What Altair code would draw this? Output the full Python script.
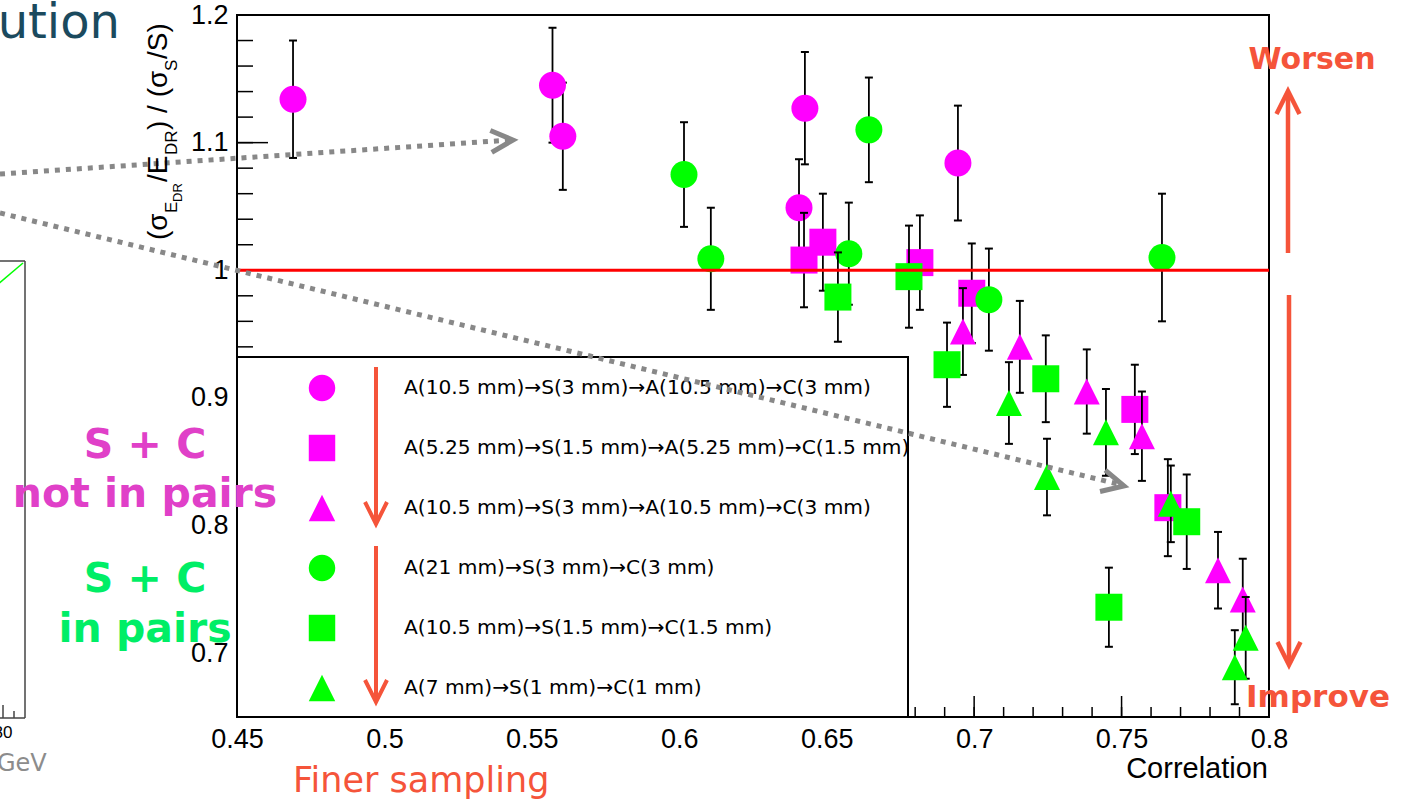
import altair as alt
import pandas as pd

# ------------------------------------------------------------------ data
X_DOMAIN = [0.45, 0.80]
Y_DOMAIN = [0.65, 1.20]

x_tick_labels = [0.45, 0.5, 0.55, 0.6, 0.65, 0.7, 0.75, 0.8]
y_tick_labels = [0.7, 0.8, 0.9, 1.0, 1.1, 1.2]
x_minor_ticks = [round(0.45 + 0.01 * i, 2) for i in range(36)]
y_minor_ticks = [round(0.66 + 0.02 * i, 2) for i in range(28)]

legend_labels = [
    "A(10.5 mm)→S(3 mm)→A(10.5 mm)→C(3 mm)",
    "A(5.25 mm)→S(1.5 mm)→A(5.25 mm)→C(1.5 mm)",
    "A(10.5 mm)→S(3 mm)→A(10.5 mm)→C(3 mm)",
    "A(21 mm)→S(3 mm)→C(3 mm)",
    "A(10.5 mm)→S(1.5 mm)→C(1.5 mm)",
    "A(7 mm)→S(1 mm)→C(1 mm)",
]

TRI = "M-1,1L1,1L0,-1Z"
series_colors = ["#ff00ff", "#ff00ff", "#ff00ff", "#00ff00", "#00ff00", "#00ff00"]
series_shapes = ["circle", "square", TRI, "circle", "square", TRI]

# magenta (not in pairs)
mag_circle_x = [0.469, 0.557, 0.5605, 0.6426, 0.6406, 0.6945]
mag_circle_y = [1.134, 1.145, 1.105, 1.127, 1.049, 1.084]
mag_circle_e = [0.046, 0.045, 0.042, 0.044, 0.038, 0.045]

mag_square_x = [0.6423, 0.6487, 0.6816, 0.6992, 0.7545, 0.7657]
mag_square_y = [1.008, 1.022, 1.006, 0.982, 0.891, 0.814]
mag_square_e = [0.037, 0.038, 0.037, 0.039, 0.035, 0.038]

mag_tri_x = [0.6962, 0.7155, 0.7382, 0.7569, 0.7827, 0.7911]
mag_tri_y = [0.952, 0.940, 0.905, 0.870, 0.765, 0.742]
mag_tri_e = [0.034, 0.036, 0.033, 0.035, 0.030, 0.032]

# green (in pairs)
grn_circle_x = [0.6016, 0.6107, 0.6575, 0.6643, 0.7050, 0.7637]
grn_circle_y = [1.075, 1.009, 1.013, 1.110, 0.977, 1.010]
grn_circle_e = [0.041, 0.040, 0.040, 0.041, 0.040, 0.050]

grn_square_x = [0.6538, 0.6779, 0.6908, 0.7243, 0.7457, 0.7721]
grn_square_y = [0.979, 0.995, 0.926, 0.915, 0.736, 0.803]
grn_square_e = [0.035, 0.040, 0.033, 0.034, 0.031, 0.037]

grn_tri_x = [0.7118, 0.7247, 0.7447, 0.7667, 0.7921, 0.7884]
grn_tri_y = [0.896, 0.838, 0.873, 0.817, 0.712, 0.689]
grn_tri_e = [0.032, 0.030, 0.034, 0.030, 0.032, 0.029]

series = [
    (mag_circle_x, mag_circle_y, mag_circle_e),
    (mag_square_x, mag_square_y, mag_square_e),
    (mag_tri_x, mag_tri_y, mag_tri_e),
    (grn_circle_x, grn_circle_y, grn_circle_e),
    (grn_square_x, grn_square_y, grn_square_e),
    (grn_tri_x, grn_tri_y, grn_tri_e),
]
series_sizes = [729, 729, 676, 729, 729, 676]

# ------------------------------------------------------------------ setup
W, H = 1032, 702
one = alt.Data(values=[{"k": 0}])
ORANGE = "#f5543a"
SANS = "Liberation Sans"
SLIDE = "DejaVu Sans"

xs = alt.Scale(domain=X_DOMAIN, nice=False, zero=False)
ys = alt.Scale(domain=Y_DOMAIN, nice=False, zero=False)
x_axis = alt.Axis(values=x_tick_labels, format="~g", ticks=False, domain=False, grid=False,
                  labelFont=SANS, labelFontSize=27, labelColor="black", labelPadding=9,
                  labelFlush=False, labelOverlap=False, title=None)
y_axis = alt.Axis(values=y_tick_labels, format="~g", ticks=False, domain=False, grid=False,
                  labelFont=SANS, labelFontSize=27, labelColor="black", labelPadding=9,
                  labelFlush=False, labelOverlap=False, title=None)


def txt(text, x, y, size, color="black", font=SLIDE, bold=False, align="left",
        angle=None, baseline="alphabetic"):
    kw = dict(text=text, fontSize=size, color=color, font=font, align=align,
              baseline=baseline, fontWeight="bold" if bold else "normal")
    if angle is not None:
        kw["angle"] = angle
    return alt.Chart(one).mark_text(**kw).encode(x=alt.value(x), y=alt.value(y))


def seg(x1, y1, x2, y2, color, width, dash=None):
    kw = dict(color=color, strokeWidth=width, strokeCap="butt")
    if dash:
        kw["strokeDash"] = dash
    return alt.Chart(one).mark_rule(**kw).encode(
        x=alt.value(x1), y=alt.value(y1), x2=alt.value(x2), y2=alt.value(y2))


def chevron(x, y, path, size, color, width, angle=0):
    return alt.Chart(one).mark_point(shape=path, size=size, filled=False, color=color,
                                     strokeWidth=width, opacity=1, angle=angle).encode(
        x=alt.value(x), y=alt.value(y))


layers = []

# ---------------- inward ticks (ROOT style)
layers.append(alt.Chart(pd.DataFrame({"v": x_minor_ticks})).mark_rule(color="black", strokeWidth=1.5).encode(
    x=alt.X("v:Q", scale=xs, axis=x_axis), y=alt.value(H), y2=alt.value(H - 10)))
layers.append(alt.Chart(pd.DataFrame({"v": x_tick_labels})).mark_rule(color="black", strokeWidth=1.5).encode(
    x=alt.X("v:Q", scale=xs, axis=x_axis), y=alt.value(H), y2=alt.value(H - 21)))
layers.append(alt.Chart(pd.DataFrame({"v": y_minor_ticks})).mark_rule(color="black", strokeWidth=1.5).encode(
    y=alt.Y("v:Q", scale=ys, axis=y_axis), x=alt.value(0), x2=alt.value(16)))
layers.append(alt.Chart(pd.DataFrame({"v": y_tick_labels})).mark_rule(color="black", strokeWidth=1.5).encode(
    y=alt.Y("v:Q", scale=ys, axis=y_axis), x=alt.value(0), x2=alt.value(31)))

# ---------------- data series
for (sx, sy, se), col, shp, sz in zip(series, series_colors, series_shapes, series_sizes):
    df = pd.DataFrame({"x": sx, "y": sy, "e": se})
    base = alt.Chart(df).transform_calculate(lo="datum.y - datum.e", hi="datum.y + datum.e")
    X = alt.X("x:Q", scale=xs, axis=x_axis)
    layers.append(base.mark_rule(color="black", strokeWidth=1.8).encode(
        x=X, y=alt.Y("lo:Q", scale=ys, axis=y_axis), y2="hi:Q"))
    for end in ["lo", "hi"]:
        layers.append(base.mark_point(shape="M-1,0L1,0", size=64, filled=False, color="black",
                                      strokeWidth=2, opacity=1).encode(
            x=X, y=alt.Y(f"{end}:Q", scale=ys, axis=y_axis)))
    layers.append(base.mark_point(shape=shp, size=sz, filled=True, color=col, opacity=1,
                                  strokeWidth=0).encode(
        x=X, y=alt.Y("y:Q", scale=ys, axis=y_axis)))

# ---------------- reference line at 1
layers.append(alt.Chart(one).mark_rule(color="#ff0000", strokeWidth=3).encode(
    y=alt.Y(datum=1.0, scale=ys, axis=y_axis), x=alt.value(0), x2=alt.value(W)))

# ---------------- legend box
layers.append(alt.Chart(one).mark_rect(fill="white", stroke="black", strokeWidth=2).encode(
    x=alt.value(0), x2=alt.value(671), y=alt.value(342), y2=alt.value(702)))
leg = pd.DataFrame({"label": legend_labels, "row": list(range(6)),
                    "color": series_colors, "shape": series_shapes})
leg_base = alt.Chart(leg).transform_calculate(py="373 + 60 * datum.row")
layers.append(leg_base.mark_point(filled=True, size=700, opacity=1, strokeWidth=0).encode(
    x=alt.value(85), y=alt.Y("py:Q", scale=None, axis=None),
    color=alt.Color("color:N", scale=None), shape=alt.Shape("shape:N", scale=None)))
layers.append(leg_base.mark_text(align="left", baseline="middle", font="DejaVu Sans", fontSize=20.2,
                                 color="black").encode(
    x=alt.value(167), y=alt.Y("py:Q", scale=None, axis=None), text="label:N"))
# legend arrows
layers.append(seg(139, 352, 139, 506, ORANGE, 4))
layers.append(chevron(139, 509, "M-1,-2L0,0L1,-2", 484, ORANGE, 4))
layers.append(seg(139, 531, 139, 684, ORANGE, 4))
layers.append(chevron(139, 687, "M-1,-2L0,0L1,-2", 484, ORANGE, 4))

# ---------------- left partial plot remnants
layers.append(seg(-212, 246, -212, 703, "#444444", 1.5))
layers.append(seg(-240, 246, -212, 246, "#444444", 1.5))
layers.append(seg(-240, 703, -212, 703, "#444444", 1.5))
layers.append(seg(-240, 270, -214, 248, "#00ff00", 1.5))
layers.append(seg(-234, 690, -234, 703, "#444444", 1.5))
layers.append(seg(-223, 696, -223, 703, "#444444", 1.5))
layers.append(txt("80", -234, 723, 17, font=SANS, align="center"))
layers.append(txt("GeV", -240, 756, 24, color="#8c8c8c"))

# ---------------- gray dotted arrows
layers.append(seg(-237, 159, 274, 125, "#888888", 5, dash=[5, 6]))
layers.append(chevron(276, 125, "M-2,-1L0,0L-2,1", 484, "#888888", 5, angle=356.2))
layers.append(seg(-237, 198, 885, 470, "#888888", 5, dash=[5, 6]))
layers.append(chevron(887, 471, "M-2,-1L0,0L-2,1", 484, "#888888", 5, angle=13.6))

# ---------------- y axis title (rotated, with subscripts)
layers.append(txt("(σ", -70, 225, 28, font=SANS, angle=270))
layers.append(txt("E", -60, 198, 17, font=SANS, angle=270))
layers.append(txt("DR", -55, 187, 13, font=SANS, angle=270))
layers.append(txt("/E", -70, 167, 28, font=SANS, angle=270))
layers.append(txt("DR", -60, 140, 17, font=SANS, angle=270))
layers.append(txt(") / (σ", -70, 115, 28, font=SANS, angle=270))
layers.append(txt("S", -60, 56, 17, font=SANS, angle=270))
layers.append(txt("/S)", -70, 44, 28, font=SANS, angle=270))

# ---------------- x axis title
layers.append(txt("Correlation", 1031, 763, 29, font=SANS, align="right"))

# ---------------- slide annotations
layers.append(txt("ution", -117, 23, 48, color="#1b4a5e", align="right"))
layers.append(txt("S + C", -92, 443, 41, color="#e040c8", bold=True, align="center"))
layers.append(txt("not in pairs", -92, 492, 41, color="#e040c8", bold=True, align="center"))
layers.append(txt("S + C", -92, 577, 41, color="#00ee66", bold=True, align="center"))
layers.append(txt("in pairs", -92, 627, 41, color="#00ee66", bold=True, align="center"))
layers.append(txt("Worsen", 1075, 54, 30, color=ORANGE, bold=True, align="center"))
layers.append(txt("Improve", 1081, 692, 31, color=ORANGE, bold=True, align="center"))
layers.append(txt("Finer sampling", 56, 777, 35, color=ORANGE))

# worsen / improve arrows
layers.append(seg(1051, 238, 1051, 79, ORANGE, 4.5))
layers.append(chevron(1051, 76, "M-1,2L0,0L1,2", 529, ORANGE, 4.5))
layers.append(seg(1052, 280, 1052, 647, ORANGE, 4.5))
layers.append(chevron(1052, 650, "M-1,-2L0,0L1,-2", 529, ORANGE, 4.5))

chart = alt.layer(*layers).properties(
    width=W, height=H,
    autosize=alt.AutoSizeParams(type="none"),
    padding={"left": 237, "top": 15, "right": 134, "bottom": 87},
    background="white",
).configure_view(stroke="black", strokeWidth=2)

chart.save("out.html", embed_options={"renderer": "svg", "actions": False})
